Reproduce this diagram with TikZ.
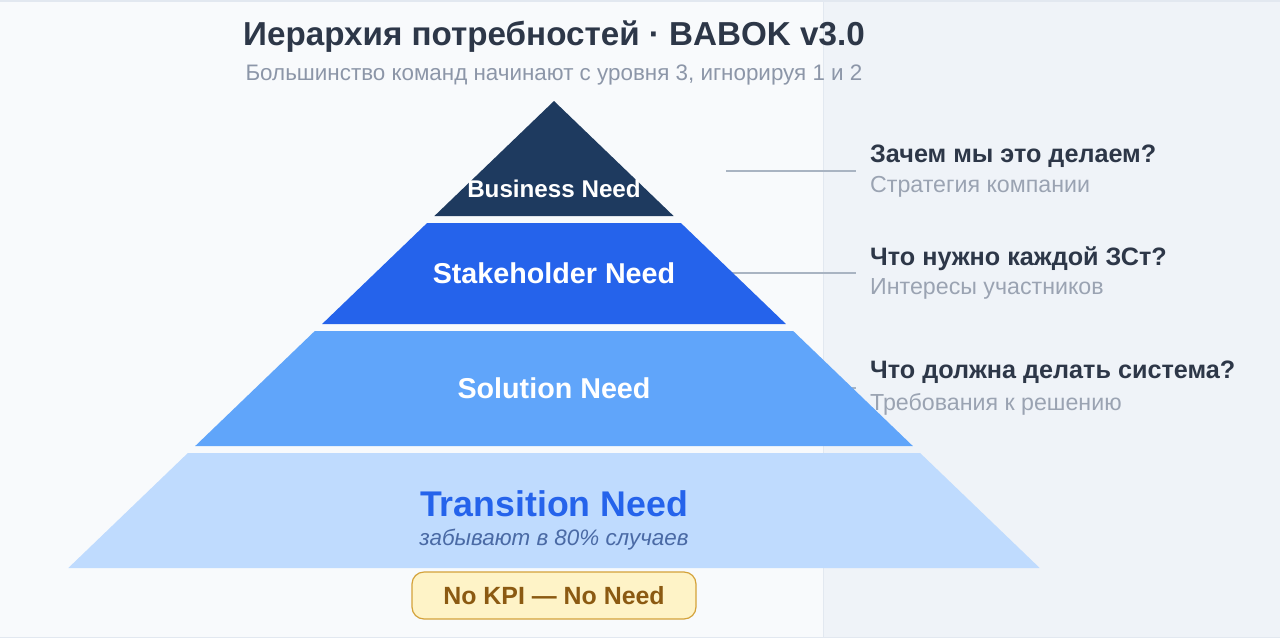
\documentclass[tikz,border=0pt]{standalone}
\usepackage{fontspec}
\setmainfont{Liberation Sans}
\definecolor{bgL}{HTML}{F8FAFC}
\definecolor{bgR}{HTML}{EFF3F8}
\definecolor{frame}{HTML}{E2E8F0}
\definecolor{titlec}{HTML}{2D3748}
\definecolor{subc}{HTML}{8C96A8}
\definecolor{grayc}{HTML}{9AA3B2}
\definecolor{linec}{HTML}{A9B4C2}
\definecolor{tierA}{HTML}{1E3A5F}
\definecolor{tierB}{HTML}{2563EB}
\definecolor{tierC}{HTML}{60A5FA}
\definecolor{tierD}{HTML}{BFDBFE}
\definecolor{subblue}{HTML}{4A6AA5}
\definecolor{kpifill}{HTML}{FEF3C7}
\definecolor{kpidraw}{HTML}{D4A23A}
\definecolor{kpitext}{HTML}{8B5A12}
\tikzset{
  tiertext/.style={anchor=base, text=white, font=\bfseries\fontsize{28.7}{32}\selectfont, inner sep=0pt},
  qtext/.style={anchor=base west, text=titlec, font=\bfseries\fontsize{25.2}{29}\selectfont, inner sep=0pt},
  atext/.style={anchor=base west, text=grayc, font=\fontsize{23.2}{27}\selectfont, inner sep=0pt},
  guide/.style={draw=linec, line width=1.3pt},
}
\begin{document}
\begin{tikzpicture}[x=1pt, y=-1pt]
\useasboundingbox (0,0) rectangle (1280,638);
% backgrounds
\fill[bgL] (0,0) rectangle (1280,638);
\fill[bgR] (823,0) rectangle (1280,638);
\draw[frame, line width=0.8pt] (823,0) -- (823,638);
\draw[frame, line width=1.5pt] (0,0.75) -- (1280,0.75);
\draw[frame, line width=1.5pt] (0,637.25) -- (1280,637.25);
% title
\node[anchor=base, text=titlec, font=\bfseries\fontsize{33.2}{37}\selectfont, inner sep=0pt] (title) at (554,45) {Иерархия потребностей · BABOK v3.0};
\node[anchor=base, text=subc, font=\fontsize{22.4}{26}\selectfont, inner sep=0pt] (subtitle) at (554,80) {Большинство команд начинают с уровня 3, игнорируя 1 и 2};
% guide lines (under pyramid)
\coordinate (g1a) at (726,171); \coordinate (g1b) at (856,171);
\coordinate (g2a) at (726,273); \coordinate (g2b) at (856,273);
\coordinate (g3a) at (726,388); \coordinate (g3b) at (856,388);
\draw[guide] (g1a) -- (g1b);
\draw[guide] (g2a) -- (g2b);
\draw[guide] (g3a) -- (g3b);
% pyramid tiers
\fill[tierA] (554,101) -- (673.6,216) -- (434.4,216) -- cycle;
\fill[tierB] (427.1,223) -- (680.9,223) -- (785.9,324) -- (322.1,324) -- cycle;
\fill[tierC] (314.8,331) -- (793.2,331) -- (912.8,446) -- (195.2,446) -- cycle;
\fill[tierD] (187.9,453) -- (920.1,453) -- (1039.7,568) -- (68.3,568) -- cycle;
% tier labels
\node[tiertext, font=\bfseries\fontsize{24.2}{28}\selectfont] (business) at (554,197) {Business Need};
\node[tiertext] (stakeholder) at (554,283) {Stakeholder Need};
\node[tiertext] (solution) at (554,398) {Solution Need};
\node[tiertext, text=tierB, font=\bfseries\fontsize{35.7}{40}\selectfont] (transition) at (554,516) {Transition Need};
\node[anchor=base, text=subblue, font=\itshape\fontsize{22.4}{26}\selectfont, inner sep=0pt] (forgot) at (554,545) {забывают в 80\% случаев};
% KPI box
\node[draw=kpidraw, fill=kpifill, line width=1.2pt, rounded corners=12pt, minimum width=284pt, minimum height=47pt, text=kpitext, font=\bfseries\fontsize{24.9}{28}\selectfont] (kpi) at (554,595.5) {No KPI — No Need};
% right labels
\node[qtext] (q1) at (870,162) {Зачем мы это делаем?};
\node[atext] (a1) at (870,192) {Стратегия компании};
\node[qtext] (q2) at (870,265) {Что нужно каждой ЗСт?};
\node[atext] (a2) at (870,294) {Интересы участников};
\node[qtext] (q3) at (870,378) {Что должна делать система?};
\node[atext] (a3) at (870,410) {Требования к решению};
\end{tikzpicture}
\end{document}
